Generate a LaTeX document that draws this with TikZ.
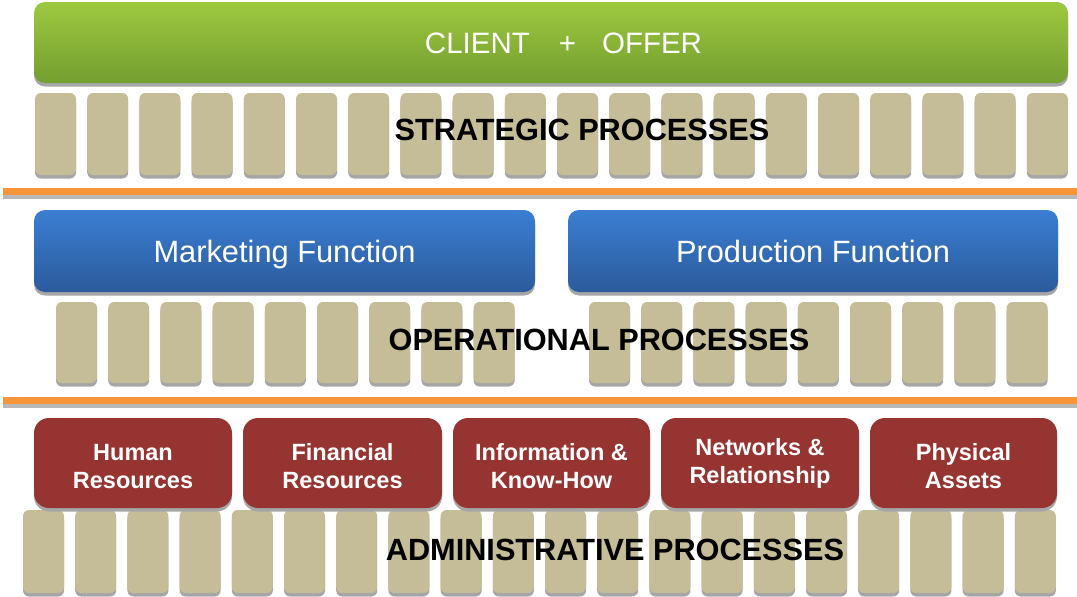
\documentclass[tikz,border=0pt]{standalone}
\usepackage{fontspec}
\setmainfont{Liberation Sans}
\usetikzlibrary{shadows}

\definecolor{greenTop}{HTML}{9DC940}
\definecolor{greenBot}{HTML}{749E2F}
\definecolor{blueTop}{HTML}{3B7ED2}
\definecolor{blueBot}{HTML}{2B5B9C}
\definecolor{resRed}{HTML}{963431}
\definecolor{pillarTan}{HTML}{C4BD97}
\definecolor{shadeGrey}{HTML}{A6A6A6}
\definecolor{lineOrange}{HTML}{F79539}

\tikzset{
  baseshadow/.style={drop shadow={shadow xshift=0pt, shadow yshift=-3.5pt, fill=shadeGrey, opacity=1}},
  pillar/.style={rectangle, rounded corners=6pt, fill=pillarTan, minimum width=41pt,
                 inner sep=0pt, baseshadow},
  bannerbar/.style={rectangle, rounded corners=11pt, inner sep=0pt, baseshadow,
                 top color=greenTop, bottom color=greenBot, minimum height=81pt},
  funcbar/.style={rectangle, rounded corners=11pt, inner sep=0pt, baseshadow,
                 top color=blueTop, bottom color=blueBot, minimum height=82pt,
                 text=white, text height=22pt, text depth=0pt,
                 font=\fontsize{30.8}{36}\selectfont},
  resbox/.style={rectangle, rounded corners=15pt, inner sep=0pt, baseshadow,
                 fill=resRed, minimum height=90pt},
  restext/.style={align=center, text=white, inner sep=0pt,
                 font=\bfseries\fontsize{23.5}{28}\selectfont},
  layertext/.style={text=black, font=\bfseries\fontsize{30.7}{36}\selectfont, inner sep=0pt},
  divider/.style={fill=lineOrange},
  dividershade/.style={fill=shadeGrey!80}
}

\begin{document}
\begin{tikzpicture}[x=1pt, y=-1pt]
  \useasboundingbox (0,0) rectangle (1077,597);

  % ---- strategic layer ----
  \node[bannerbar, minimum width=1034pt] (client) at (551,42.5) {};
  \node[text=white, font=\fontsize{29.5}{34}\selectfont, inner sep=0pt] (clienttext) at (563.5,43.5)
    {CLIENT\hspace{29pt}+\hspace{26pt}OFFER};
  \foreach \i in {0,...,19}
    \node[pillar, minimum height=82pt] (sp\i) at (55.5+52.2*\i,134) {};
  \node[layertext] (strategic) at (582,130) {STRATEGIC PROCESSES};

  % ---- divider ----
  \fill[dividershade] (3,194.5) rectangle (1077,198.5);
  \fill[divider] (3,188) rectangle (1077,195);

  % ---- operational layer ----
  \node[funcbar, minimum width=501pt] (marketing) at (284.5,251) {Marketing Function};
  \node[funcbar, minimum width=490pt] (production) at (813,251) {Production Function};
  \foreach \i in {0,...,8}
    \node[pillar, minimum height=81pt] (opl\i) at (76.5+52.2*\i,342.5) {};
  \foreach \i in {0,...,8}
    \node[pillar, minimum height=81pt] (opr\i) at (609.5+52.2*\i,342.5) {};
  \node[layertext] (operational) at (599,340) {OPERATIONAL PROCESSES};

  % ---- divider ----
  \fill[dividershade] (3,403.5) rectangle (1077,407.5);
  \fill[divider] (3,397) rectangle (1077,404);

  % ---- administrative layer ----
  \foreach \i in {0,...,19}
    \node[pillar, minimum height=83pt] (ap\i) at (43.5+52.2*\i,551.5) {};
  \node[resbox, minimum width=198pt] (human) at (133,463) {};
  \node[resbox, minimum width=199pt] (financial) at (342.5,463) {};
  \node[resbox, minimum width=197pt] (information) at (551.5,463) {};
  \node[resbox, minimum width=198pt] (networks) at (760,463) {};
  \node[resbox, minimum width=187pt] (physical) at (963.5,463) {};
  \node[restext] (humantext) at ([yshift=-3.5pt]human.center) {Human\\Resources};
  \node[restext] (financialtext) at ([yshift=-3.5pt]financial.center) {Financial\\Resources};
  \node[restext] (informationtext) at ([yshift=-3pt]information.center) {Information \&\\Know-How};
  \node[restext] (networkstext) at (networks.center) {Networks \&\\Relationship};
  \node[restext] (physicaltext) at ([yshift=-3.5pt]physical.center) {Physical\\Assets};
  \node[layertext] (administrative) at (615,550) {ADMINISTRATIVE PROCESSES};
\end{tikzpicture}
\end{document}
